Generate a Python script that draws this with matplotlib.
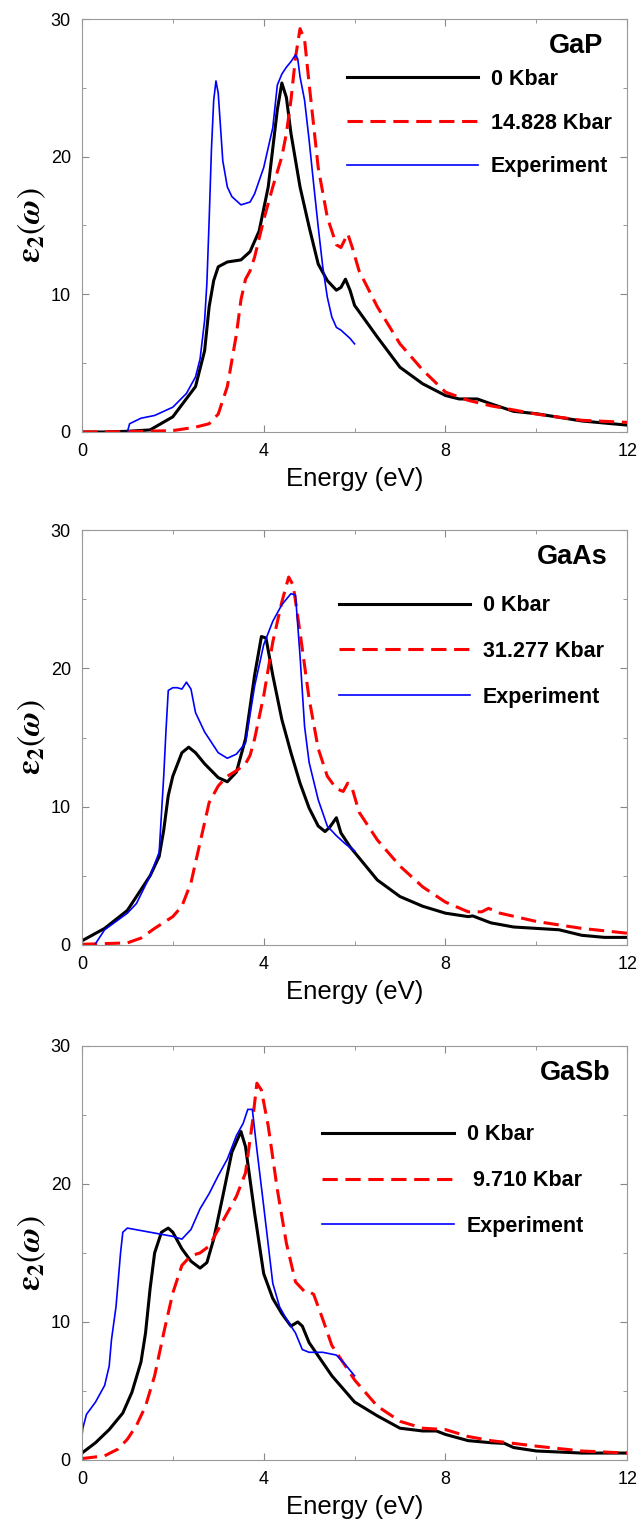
import numpy as np
import matplotlib
matplotlib.use("Agg")
import matplotlib.pyplot as plt
from matplotlib.ticker import MultipleLocator

plt.rcParams['font.family'] = ['Liberation Sans', 'DejaVu Sans']
plt.rcParams['mathtext.fontset'] = 'stix'

# ---- GaP ----
gap_0_x = [0, 0.5, 1.0, 1.5, 2.0, 2.5, 2.7, 2.8, 2.9, 3.0, 3.2, 3.5, 3.7, 3.9, 4.1, 4.3, 4.4, 4.5, 4.6,
           4.8, 5.0, 5.2, 5.4, 5.6, 5.7, 5.8, 5.9, 6.0, 6.5, 7.0, 7.5, 8.0, 8.3, 8.7, 9.0, 9.5, 10, 11, 12]
gap_0_y = [0, 0, 0.05, 0.15, 1.1, 3.3, 5.9, 9.1, 11.0, 12.0, 12.35, 12.5, 13.1, 14.6, 17.8, 23.4, 25.35, 24.3, 21.7,
           17.8, 14.9, 12.2, 11.0, 10.3, 10.5, 11.1, 10.3, 9.2, 6.9, 4.7, 3.5, 2.65, 2.4, 2.4, 2.05, 1.5, 1.33, 0.8, 0.5]
gap_p_x = [0, 1.0, 2.0, 2.5, 2.8, 3.0, 3.2, 3.3, 3.4, 3.5, 3.6, 3.7, 3.8, 4.0, 4.2, 4.4, 4.5, 4.6, 4.7, 4.8,
           4.9, 5.0, 5.2, 5.4, 5.6, 5.7, 5.85, 5.95, 6.1, 6.5, 7.0, 7.5, 8.0, 8.5, 9.0, 10, 11, 12]
gap_p_y = [0, 0.02, 0.1, 0.35, 0.6, 1.3, 3.3, 5.2, 7.1, 9.6, 11.1, 11.7, 12.7, 15.4, 17.8, 20.0, 21.7, 24.1, 27.2, 29.3,
           28.5, 25.3, 19.2, 15.6, 13.6, 13.4, 14.4, 13.4, 11.7, 9.1, 6.4, 4.5, 2.9, 2.3, 1.9, 1.3, 0.85, 0.7]
gap_e_x = [1.0, 1.05, 1.3, 1.6, 2.0, 2.3, 2.5, 2.6, 2.7, 2.75, 2.8, 2.85, 2.9, 2.95, 3.0, 3.1, 3.2, 3.3, 3.4, 3.5,
           3.7, 3.8, 4.0, 4.2, 4.3, 4.4, 4.5, 4.6, 4.7, 4.75, 4.8, 4.9, 5.0, 5.1, 5.2, 5.3, 5.4, 5.5, 5.6, 5.7,
           5.8, 5.9, 6.0]
gap_e_y = [0, 0.6, 1.0, 1.2, 1.8, 2.8, 4.0, 5.3, 8.1, 10.8, 15.4, 20.5, 24.1, 25.5, 24.6, 19.7, 17.8, 17.1, 16.8, 16.5,
           16.7, 17.3, 19.2, 22.1, 25.2, 26.0, 26.5, 26.9, 27.4, 27.1, 25.8, 24.1, 21.2, 18.0, 14.9, 12.0, 9.8, 8.35, 7.6, 7.4,
           7.1, 6.8, 6.4]

# ---- GaAs ----
gaas_0_x = [0, 0.5, 1.0, 1.3, 1.5, 1.7, 1.8, 1.9, 2.0, 2.2, 2.35, 2.5, 2.7, 3.0, 3.2, 3.4, 3.6, 3.8, 3.95, 4.05,
            4.2, 4.4, 4.6, 4.8, 5.0, 5.2, 5.35, 5.45, 5.6, 5.7, 5.9, 6.0, 6.5, 7.0, 7.5, 8.0, 8.5, 8.6, 9.0,
            9.5, 10.0, 10.5, 11.0, 11.5, 12]
gaas_0_y = [0.3, 1.2, 2.5, 4.0, 5.0, 6.4, 8.3, 10.8, 12.2, 13.9, 14.3, 13.9, 13.1, 12.1, 11.8, 12.5, 14.9, 19.5, 22.3, 22.2,
            19.5, 16.3, 13.9, 11.7, 9.9, 8.6, 8.2, 8.5, 9.2, 8.1, 7.1, 6.7, 4.7, 3.5, 2.8, 2.3, 2.05, 2.1, 1.6,
            1.3, 1.2, 1.1, 0.7, 0.55, 0.55]
gaas_p_x = [0, 1.0, 1.3, 1.6, 2.0, 2.2, 2.4, 2.6, 2.8, 3.0, 3.2, 3.4, 3.6, 3.7, 3.8, 4.0, 4.2, 4.4, 4.55, 4.65,
            4.8, 5.0, 5.2, 5.4, 5.6, 5.75, 5.85, 5.95, 6.1, 6.5, 7.0, 7.5, 8.0, 8.5, 8.8, 8.95, 9.2, 10, 11, 12]
gaas_p_y = [0.05, 0.15, 0.5, 1.2, 2.05, 2.8, 4.5, 7.4, 10.3, 11.5, 12.2, 12.6, 13.1, 13.7, 14.9, 18.0, 21.9, 24.8, 26.6, 26.0,
            22.6, 17.8, 14.2, 12.2, 11.3, 11.1, 11.7, 11.3, 9.6, 7.6, 5.7, 4.2, 3.1, 2.4, 2.4, 2.65, 2.3, 1.7, 1.2, 0.85]
gaas_e_x = [0.3, 0.5, 1.0, 1.2, 1.5, 1.7, 1.8, 1.85, 1.9, 2.0, 2.1, 2.2, 2.3, 2.4, 2.5, 2.7, 3.0, 3.2, 3.4, 3.6,
            3.8, 4.0, 4.2, 4.4, 4.6, 4.7, 4.8, 4.9, 5.0, 5.2, 5.4, 5.6, 5.8, 6.0]
gaas_e_y = [0.1, 1.1, 2.3, 3.0, 5.0, 6.7, 12.2, 15.5, 18.4, 18.6, 18.6, 18.5, 19.0, 18.5, 16.8, 15.4, 13.9, 13.5, 13.8, 14.6,
            18.7, 21.7, 23.4, 24.6, 25.4, 25.3, 20.9, 15.8, 13.2, 10.5, 8.6, 7.9, 7.3, 6.8]

# ---- GaSb ----
gasb_0_x = [0, 0.3, 0.6, 0.9, 1.1, 1.3, 1.4, 1.5, 1.6, 1.75, 1.9, 2.0, 2.2, 2.4, 2.6, 2.75, 2.9, 3.1, 3.3, 3.5,
            3.6, 3.8, 4.0, 4.2, 4.4, 4.6, 4.75, 4.85, 5.0, 5.5, 6.0, 6.5, 7.0, 7.5, 7.8, 8.0, 8.5, 9.0, 9.3,
            9.5, 10, 11, 12]
gasb_0_y = [0.5, 1.25, 2.2, 3.4, 4.9, 7.1, 9.2, 12.4, 15.0, 16.5, 16.8, 16.5, 15.3, 14.4, 13.9, 14.3, 16.0, 19.1, 22.3, 23.8,
            22.7, 17.9, 13.5, 11.7, 10.6, 9.7, 10.0, 9.7, 8.5, 6.1, 4.2, 3.2, 2.3, 2.1, 2.1, 1.85, 1.4, 1.25, 1.2,
            0.9, 0.65, 0.5, 0.5]
gasb_p_x = [0, 0.5, 0.8, 1.0, 1.2, 1.4, 1.6, 1.8, 2.0, 2.2, 2.4, 2.6, 2.8, 3.0, 3.2, 3.4, 3.6, 3.75, 3.85, 3.95,
            4.1, 4.3, 4.5, 4.7, 4.9, 5.0, 5.1, 5.3, 5.5, 6.0, 6.5, 7.0, 7.5, 8.0, 8.5, 9.0, 10, 11, 12]
gasb_p_y = [0.1, 0.3, 0.8, 1.5, 2.5, 3.9, 6.1, 9.2, 12.1, 14.1, 14.8, 15.0, 15.5, 16.7, 17.9, 19.1, 20.8, 24.4, 27.3, 26.8,
            24.2, 19.6, 15.7, 12.9, 12.2, 12.2, 12.0, 10.2, 8.3, 5.8, 3.9, 2.8, 2.3, 2.2, 1.7, 1.4, 1.0, 0.65, 0.5]
gasb_e_x = [0, 0.02, 0.1, 0.3, 0.5, 0.6, 0.65, 0.75, 0.85, 0.9, 1.0, 1.5, 2.0, 2.2, 2.4, 2.6, 2.8, 3.0, 3.2, 3.4,
            3.55, 3.65, 3.75, 3.85, 4.0, 4.2, 4.35, 4.5, 4.7, 4.85, 5.0, 5.3, 5.6, 5.8, 6.0]
gasb_e_y = [1.7, 2.3, 3.3, 4.2, 5.4, 6.8, 8.7, 11.1, 15.0, 16.5, 16.8, 16.5, 16.2, 16.0, 16.7, 18.2, 19.3, 20.6, 21.8, 23.5,
            24.4, 25.4, 25.4, 22.5, 18.4, 12.8, 11.1, 10.2, 9.2, 8.0, 7.8, 7.8, 7.6, 6.9, 6.1]

panels = [
    ("GaP", "14.828 Kbar", (gap_0_x, gap_0_y), (gap_p_x, gap_p_y), (gap_e_x, gap_e_y)),
    ("GaAs", "31.277 Kbar", (gaas_0_x, gaas_0_y), (gaas_p_x, gaas_p_y), (gaas_e_x, gaas_e_y)),
    ("GaSb", " 9.710 Kbar", (gasb_0_x, gasb_0_y), (gasb_p_x, gasb_p_y), (gasb_e_x, gasb_e_y)),
]

# axes boxes in figure fraction (left, bottom, width, height)
boxes = [(0.128, 0.7158, 0.852, 0.2717),
         (0.128, 0.3783, 0.852, 0.2730),
         (0.128, 0.0395, 0.852, 0.2724)]
# legend anchor (axes fraction), row spacing and title x for each panel
leg_anchor = [(0.47, 0.90), (0.455, 0.864), (0.425, 0.831)]
leg_space = [1.05, 1.15, 1.15]
title_x = [0.955, 0.965, 0.97]

fig = plt.figure(figsize=(6.4, 15.2), dpi=100)

for (name, plabel, c0, cp, ce), box, anc, sp_, tx in zip(panels, boxes, leg_anchor, leg_space, title_x):
    ax = fig.add_axes(box)
    ax.plot(c0[0], c0[1], color='black', lw=2.2, label='0 Kbar')
    ax.plot(cp[0], cp[1], color='#ff0000', lw=2.2, ls=(0, (5, 2.5)), label=plabel)
    ax.plot(ce[0], ce[1], color='#0000ff', lw=1.2, label='Experiment')

    ax.set_xlim(0, 12)
    ax.set_ylim(0, 30)
    ax.xaxis.set_major_locator(MultipleLocator(4))
    ax.xaxis.set_minor_locator(MultipleLocator(2))
    ax.yaxis.set_major_locator(MultipleLocator(10))
    ax.yaxis.set_minor_locator(MultipleLocator(5))
    ax.tick_params(which='both', direction='in', top=True, right=True, color='#888888')
    ax.tick_params(which='major', length=5, labelsize=13, pad=8)
    ax.tick_params(which='minor', length=3)
    for sp in ax.spines.values():
        sp.set_color('#999999')
        sp.set_linewidth(0.8)

    ax.set_xlabel('Energy (eV)', fontsize=18.5, labelpad=5)
    ax.set_ylabel(r'$\boldsymbol{\varepsilon}_{\mathbf{2}}\left(\boldsymbol{\omega}\right)$',
                  fontsize=24, labelpad=2)

    ax.text(tx, 0.935, name, transform=ax.transAxes, ha='right', va='center',
            fontsize=19.5, fontweight='bold')

    ax.legend(loc='upper left', bbox_to_anchor=anc, frameon=False,
              handlelength=6.1, handletextpad=0.6, labelspacing=sp_,
              prop={'size': 15.5, 'weight': 'bold'}, borderaxespad=0)

fig.savefig('out.png', dpi=100)
